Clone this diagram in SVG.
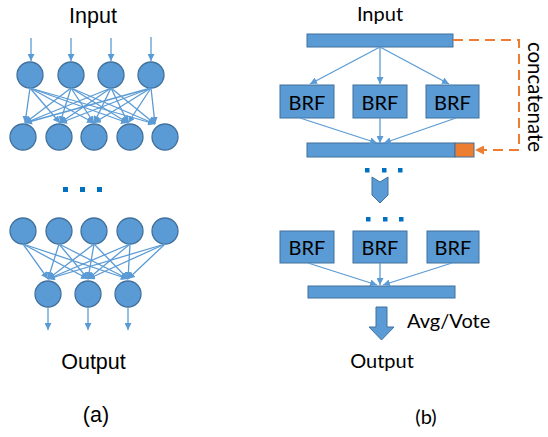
<svg xmlns="http://www.w3.org/2000/svg" width="548" height="437" viewBox="0 0 548 437">
<defs>
<marker id="ah" markerWidth="7" markerHeight="7" refX="7" refY="3.5" orient="auto" markerUnits="userSpaceOnUse"><path d="M0,0 L7,3.5 L0,7 z" fill="#5B9BD5"/></marker>
<marker id="oh" markerWidth="9" markerHeight="9" refX="9" refY="4.5" orient="auto" markerUnits="userSpaceOnUse"><path d="M0,0 L9,4.5 L0,9 z" fill="#ED7D31"/></marker>
<style>
.n{fill:#5B9BD5;stroke:#41719C;stroke-width:1.3}
.b{fill:#5B9BD5;stroke:#41719C;stroke-width:1}
.c line{stroke:#5B9BD5;stroke-width:1.3;marker-end:url(#ah)}
.d{fill:#0070C0}
.ta{font-family:"Liberation Sans",Arial,sans-serif;font-size:21.5px;fill:#000;text-anchor:middle}
.tb{font-family:Lato,"Liberation Sans",sans-serif;font-size:20px;fill:#000;text-anchor:middle}
.ts{text-anchor:start}
</style>
</defs>
<rect width="548" height="437" fill="#fff"/>

<!-- Panel (a) -->
<text class="ta" x="93" y="23">Input</text>
<g id="a-l1">
<circle class="n" cx="30" cy="75" r="13"/><circle class="n" cx="71" cy="75" r="13"/><circle class="n" cx="111" cy="75" r="13"/><circle class="n" cx="151" cy="75" r="13"/>
</g>
<g id="a-l2">
<circle class="n" cx="23" cy="137" r="13"/><circle class="n" cx="59" cy="137" r="13"/><circle class="n" cx="94" cy="137" r="13"/><circle class="n" cx="130" cy="137" r="13"/><circle class="n" cx="165" cy="137" r="13"/>
</g>
<g id="a-dots">
<rect class="d" x="63" y="187" width="5" height="5"/><rect class="d" x="80" y="187" width="5" height="5"/><rect class="d" x="97" y="187" width="5" height="5"/>
</g>
<g id="a-l3">
<circle class="n" cx="23" cy="231" r="13"/><circle class="n" cx="59" cy="231" r="13"/><circle class="n" cx="94" cy="231" r="13"/><circle class="n" cx="130" cy="231" r="13"/><circle class="n" cx="165" cy="231" r="13"/>
</g>
<g id="a-l4">
<circle class="n" cx="48" cy="294" r="13"/><circle class="n" cx="88" cy="294" r="13"/><circle class="n" cx="128" cy="294" r="13"/>
</g>
<g id="a-connectors" class="c">
<line x1="31" y1="38" x2="31" y2="61"/><line x1="71" y1="38" x2="71" y2="61"/><line x1="111" y1="38" x2="111" y2="61"/><line x1="151" y1="37" x2="151" y2="61"/>
<line x1="30" y1="88" x2="25" y2="123"/><line x1="30" y1="88" x2="60" y2="123"/><line x1="30" y1="88" x2="94" y2="123"/><line x1="30" y1="88" x2="128" y2="123"/><line x1="30" y1="88" x2="155" y2="124"/>
<line x1="71" y1="88" x2="25" y2="123"/><line x1="71" y1="88" x2="60" y2="123"/><line x1="71" y1="88" x2="94" y2="123"/><line x1="71" y1="88" x2="128" y2="123"/><line x1="71" y1="88" x2="155" y2="124"/>
<line x1="111" y1="88" x2="25" y2="123"/><line x1="111" y1="88" x2="60" y2="123"/><line x1="111" y1="88" x2="94" y2="123"/><line x1="111" y1="88" x2="128" y2="123"/><line x1="111" y1="88" x2="155" y2="124"/>
<line x1="151" y1="88" x2="25" y2="123"/><line x1="151" y1="88" x2="60" y2="123"/><line x1="151" y1="88" x2="94" y2="123"/><line x1="151" y1="88" x2="128" y2="123"/><line x1="151" y1="88" x2="155" y2="124"/>
<line x1="23" y1="244" x2="48" y2="279"/><line x1="23" y1="244" x2="88" y2="279"/><line x1="23" y1="244" x2="128" y2="279"/>
<line x1="59" y1="244" x2="48" y2="279"/><line x1="59" y1="244" x2="88" y2="279"/><line x1="59" y1="244" x2="128" y2="279"/>
<line x1="94" y1="244" x2="48" y2="279"/><line x1="94" y1="244" x2="88" y2="279"/><line x1="94" y1="244" x2="128" y2="279"/>
<line x1="130" y1="244" x2="48" y2="279"/><line x1="130" y1="244" x2="88" y2="279"/><line x1="130" y1="244" x2="128" y2="279"/>
<line x1="165" y1="244" x2="48" y2="279"/><line x1="165" y1="244" x2="88" y2="279"/><line x1="165" y1="244" x2="128" y2="279"/>
<line x1="48" y1="307" x2="48" y2="330"/><line x1="88" y1="307" x2="88" y2="330"/><line x1="128" y1="307" x2="128" y2="330"/>
</g>
<text class="ta" x="93.5" y="369">Output</text>
<text class="ta" x="96" y="422">(a)</text>

<!-- Panel (b) -->
<text class="tb" x="380" y="21">Input</text>
<g id="b-in"><rect class="b" x="307" y="34" width="146" height="13"/></g>
<g id="b-brf1"><rect class="b" x="280" y="85" width="54" height="33"/><text class="tb" x="307" y="110">BRF</text></g>
<g id="b-brf2"><rect class="b" x="353" y="85" width="54" height="33"/><text class="tb" x="380" y="110">BRF</text></g>
<g id="b-brf3"><rect class="b" x="426" y="85" width="53" height="33"/><text class="tb" x="452.5" y="110">BRF</text></g>
<g id="b-mid"><rect class="b" x="307" y="143" width="148" height="14"/><rect x="455" y="143" width="19" height="14" fill="#ED7D31" stroke="#41719C" stroke-width="1"/></g>
<g id="b-dots1"><rect class="d" x="365" y="168" width="4.5" height="4.5"/><rect class="d" x="382" y="168" width="4.5" height="4.5"/><rect class="d" x="398" y="168" width="4.5" height="4.5"/></g>
<g id="b-chev"><path class="b" d="M372,177 L380,182 L388,177 L388,195 L380,203 L372,195 Z"/></g>
<g id="b-dots2"><rect class="d" x="366" y="217" width="4.5" height="4.5"/><rect class="d" x="383" y="217" width="4.5" height="4.5"/><rect class="d" x="399" y="217" width="4.5" height="4.5"/></g>
<g id="b-brf4"><rect class="b" x="280" y="231" width="54" height="32"/><text class="tb" x="307" y="255">BRF</text></g>
<g id="b-brf5"><rect class="b" x="353" y="231" width="54" height="32"/><text class="tb" x="380" y="255">BRF</text></g>
<g id="b-brf6"><rect class="b" x="427" y="231" width="52" height="32"/><text class="tb" x="453" y="255">BRF</text></g>
<g id="b-out"><rect class="b" x="308" y="286" width="147" height="12"/></g>
<g id="b-arrow"><path class="b" d="M376,307 L387,307 L387,327 L394,327 L381.5,340 L369,327 L376,327 Z"/></g>
<g id="b-connectors" class="c">
<line x1="380" y1="47" x2="310" y2="84"/><line x1="380" y1="47" x2="380" y2="84"/><line x1="380" y1="47" x2="449" y2="84"/>
<line x1="300" y1="118" x2="377" y2="143"/><line x1="380" y1="118" x2="380" y2="143"/><line x1="456" y1="118" x2="384" y2="143"/>
<line x1="308" y1="263" x2="377" y2="285"/><line x1="380" y1="263" x2="380" y2="285"/><line x1="452" y1="263" x2="383" y2="285"/>
</g>
<g id="b-concat"><path d="M453,40 H519 V150 H475" fill="none" stroke="#ED7D31" stroke-width="2" stroke-dasharray="10,6" marker-end="url(#oh)"/></g>
<text font-family="Lato,'Liberation Sans',sans-serif" font-size="20.5" fill="#000" text-anchor="middle" transform="translate(527.5,97) rotate(90)">concatenate</text>
<text class="tb ts" x="407" y="328">Avg/Vote</text>
<text class="tb" x="382" y="368">Output</text>
<text class="tb" x="426" y="424">(b)</text>
</svg>
